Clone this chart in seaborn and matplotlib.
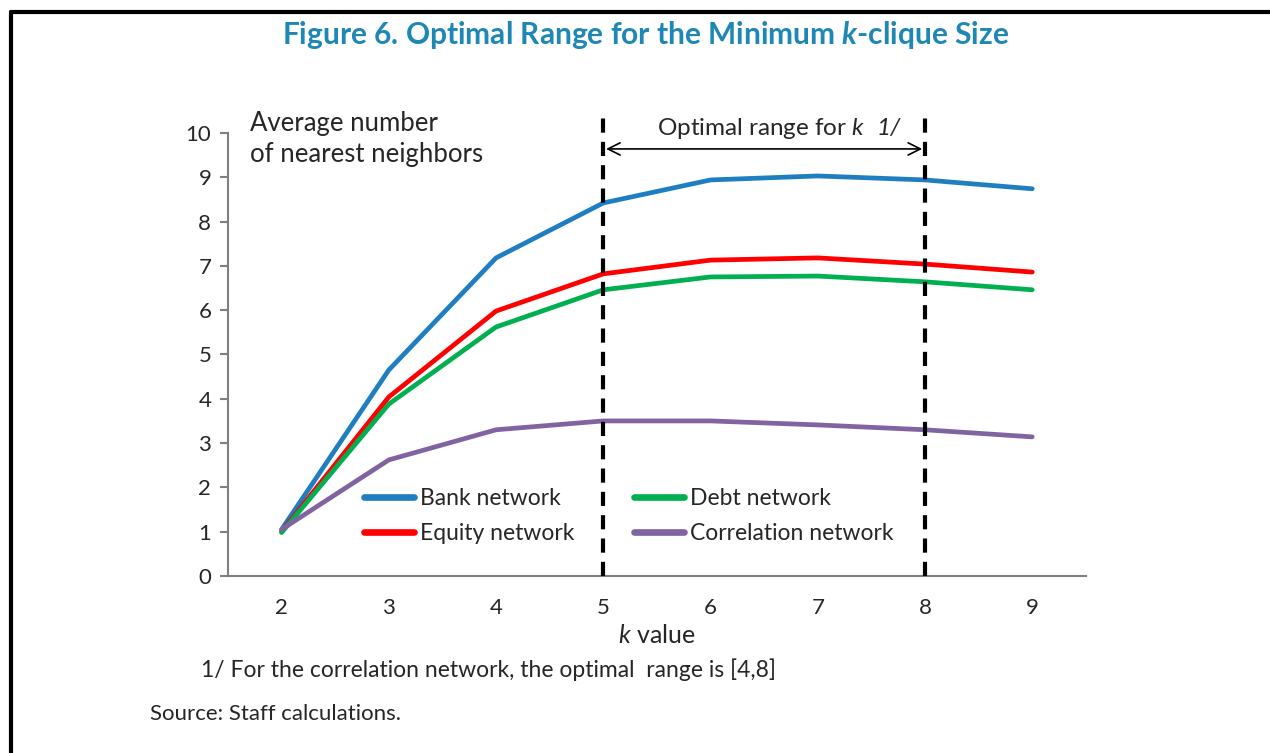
import matplotlib
matplotlib.use("Agg")
import matplotlib.pyplot as plt
import numpy as np
import pandas as pd
import seaborn as sns
from matplotlib.lines import Line2D

# --- data ---
k_values = [2, 3, 4, 5, 6, 7, 8, 9]
bank = [1.05, 4.65, 7.18, 8.42, 8.94, 9.03, 8.94, 8.74]
equity = [1.00, 4.04, 5.98, 6.82, 7.13, 7.18, 7.04, 6.86]
debt = [0.98, 3.88, 5.62, 6.46, 6.75, 6.77, 6.64, 6.46]
correlation = [1.05, 2.62, 3.30, 3.50, 3.50, 3.41, 3.30, 3.14]
series_names = ["Bank network", "Equity network", "Debt network", "Correlation network"]
series_colors = ["#1F7EC1", "#FF0000", "#00B050", "#8064A2"]
optimal_range = [5, 8]
y_ticks = list(range(0, 11))

df = pd.DataFrame({
    "k": k_values * 4,
    "value": bank + equity + debt + correlation,
    "series": np.repeat(series_names, len(k_values)),
})

sns.set_style("white")
plt.rcParams["font.family"] = ["Lato", "DejaVu Sans"]
plt.rcParams["mathtext.fontset"] = "custom"
plt.rcParams["mathtext.rm"] = "Lato"
plt.rcParams["mathtext.it"] = "Lato:italic"
plt.rcParams["mathtext.bf"] = "Lato:bold:italic"

fig = plt.figure(figsize=(12.7, 7.53), dpi=100)
ax = fig.add_axes([0.1795, 0.2351, 0.855 - 0.1795, 0.8234 - 0.2351])

sns.lineplot(data=df, x="k", y="value", hue="series", hue_order=series_names,
             palette=series_colors, linewidth=3.4, ax=ax, legend=False)

# optimal range markers
for xv in optimal_range:
    ax.plot([xv, xv], [0, 10.45], color="black", lw=3.0, ls=(0, (3.4, 2.2)),
            clip_on=False, zorder=5)
ax.annotate("", xy=(optimal_range[0], 9.64), xytext=(optimal_range[1], 9.64),
            arrowprops=dict(arrowstyle="<->", color="black", lw=1.2,
                            mutation_scale=22), annotation_clip=False)
ax.text(6.5, 10.1, r"Optimal range for $\it{k}$  ", ha="center", va="center",
        fontsize=17.5)
ax.text(7.66, 10.1, "1/", ha="center", va="center", fontsize=17.5, style="italic")

ax.set_xlim(1.5, 9.5)
ax.set_ylim(0, 10)
ax.set_xticks(k_values)
ax.set_xticks(np.arange(1.5, 10, 1), minor=True)
ax.set_yticks(y_ticks)
ax.tick_params(axis="x", which="major", length=0, labelsize=16, pad=16)
ax.tick_params(axis="x", which="minor", length=5, width=1.5, color="#808080",
               direction="out")
ax.tick_params(axis="y", length=6, width=1.5, color="#808080", labelsize=16,
               pad=6, direction="out", left=True)
for side in ["top", "right"]:
    ax.spines[side].set_visible(False)
for side in ["left", "bottom"]:
    ax.spines[side].set_color("#808080")
    ax.spines[side].set_linewidth(1.5)
ax.set_xlabel(r"$\it{k}$ value", fontsize=18, labelpad=4)
ax.set_ylabel("")

ax.text(0.026, 1.05, "Average number\nof nearest neighbors", transform=ax.transAxes,
        ha="left", va="top", fontsize=18.5, linespacing=1.3)

handles = [Line2D([0], [0], color=c, lw=4.8) for c in series_colors]
ax.legend(handles, series_names, ncol=2, frameon=False, fontsize=16.5,
          loc="upper left", bbox_to_anchor=(0.134, 0.245), handlelength=2.2,
          handletextpad=0.25, columnspacing=2.6, labelspacing=0.6)

# title, notes, frame
fig.text(0.508, 0.954, r"Figure 6. Optimal Range for the Minimum $\bf{k}$-clique Size",
         ha="center", va="center", fontsize=21.5, fontweight="bold", color="#1E87B5")
fig.text(0.158, 0.11, "1/ For the correlation network, the optimal  range is [4,8]",
         fontsize=16.5, va="center")
fig.text(0.118, 0.052, "Source: Staff calculations.", fontsize=16, va="center")
fig.add_artist(Line2D([11 / 1270, 11 / 1270], [0, 1 - 12 / 753], color="black", lw=3))
fig.add_artist(Line2D([11 / 1270, 1], [1 - 12 / 753, 1 - 12 / 753], color="black", lw=3))

fig.savefig("out.png", dpi=100)
